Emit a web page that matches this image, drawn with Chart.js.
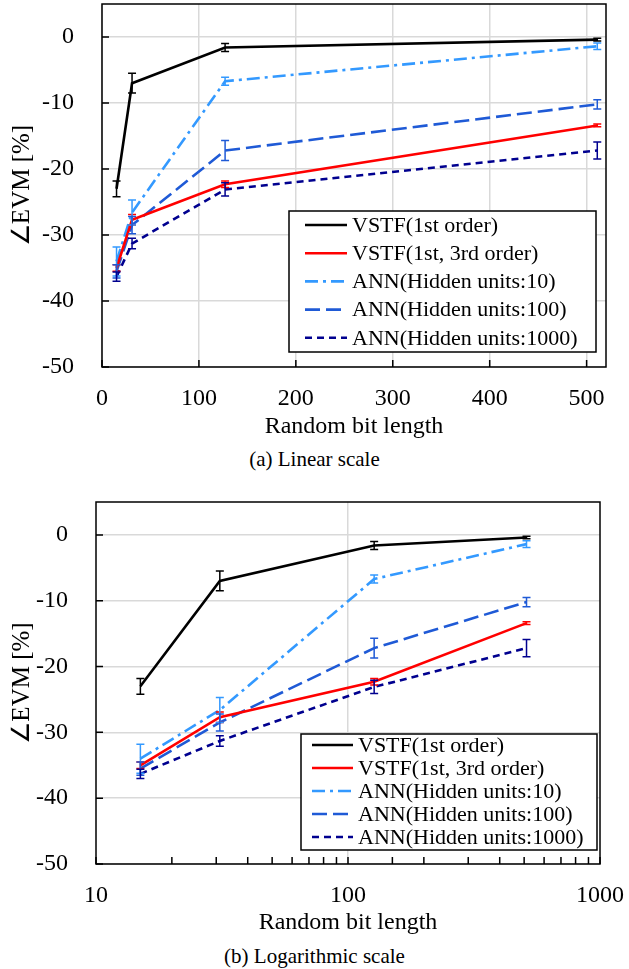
<!DOCTYPE html>
<html>
<head>
<meta charset="utf-8">
<title>EVM vs random bit length</title>
<script src="https://cdn.jsdelivr.net/npm/chart.js@4.4.1/dist/chart.umd.min.js"></script>
<style>
  body { margin: 0; background: #fff; }
  #wrap { position: relative; width: 629px; height: 969px; }
  canvas { position: absolute; left: 0; }
  .cap {
    position: absolute; left: 0; width: 629px; height: 24px; line-height: 24px;
    text-align: center; font-family: "Liberation Serif", serif; font-size: 21px; color: #000;
  }
</style>
</head>
<body>
<div id="wrap">
  <canvas id="linChart" width="629" height="445" style="top:0"></canvas>
  <div class="cap" style="top:447px">(a) Linear scale</div>
  <canvas id="logChart" width="629" height="450" style="top:490px"></canvas>
  <div class="cap" style="top:944px">(b) Logarithmic scale</div>
</div>
<script>
// random bit lengths (PRBS)
const bitLength = [15, 31, 127, 511];

// ΔEVM [%] and error bar half-widths for each model
const vstf1 = [-23.0, -7.0, -1.6, -0.4];
const vstf1Err = [1.2, 1.5, 0.6, 0.2];
const vstf13 = [-35.0, -27.7, -22.3, -13.4];
const vstf13Err = [0.5, 0.8, 0.5, 0.2];
const ann10 = [-34.0, -26.6, -6.7, -1.4];
const ann10Err = [2.2, 1.9, 0.6, 0.5];
const ann100 = [-35.5, -28.5, -17.2, -10.2];
const ann100Err = [1.0, 1.3, 1.5, 0.7];
const ann1000 = [-36.3, -31.3, -23.1, -17.2];
const ann1000Err = [0.7, 0.8, 1.0, 1.3];

const seriesLabels = [
  "VSTF(1st order)",
  "VSTF(1st, 3rd order)",
  "ANN(Hidden units:10)",
  "ANN(Hidden units:100)",
  "ANN(Hidden units:1000)",
];

// labelled ticks on the log axis
const logTickLabels = [10, 100, 1000];

const serif = "'Liberation Serif', serif";
const gridColor = "#d9d9d9";
Chart.defaults.color = "#000";
Chart.defaults.font.family = serif;

function serifFont(size) {
  return { family: serif, size: size };
}

function makeDatasets() {
  const series = [
    { values: vstf1, err: vstf1Err, color: "#000000", dash: [] },
    { values: vstf13, err: vstf13Err, color: "#ff0000", dash: [] },
    { values: ann10, err: ann10Err, color: "#3399ff", dash: [13, 5, 3, 5] },
    { values: ann100, err: ann100Err, color: "#1f5ad6", dash: [15, 6] },
    { values: ann1000, err: ann1000Err, color: "#00008f", dash: [7, 5] },
  ];
  return series.map((s, k) => ({
    label: seriesLabels[k],
    data: bitLength.map((x, i) => ({ x: x, y: s.values[i] })),
    errors: s.err,
    borderColor: s.color,
    borderDash: s.dash,
    borderWidth: 2.6,
    pointRadius: 0,
    tension: 0,
    fill: false,
  }));
}

// error bars, inward ticks, plot frame and boxed legend
const decorPlugin = {
  id: "decor",
  afterDatasetsDraw(chart) {
    const ctx = chart.ctx;
    const xs = chart.scales.x;
    const ys = chart.scales.y;
    chart.data.datasets.forEach((ds) => {
      ctx.save();
      ctx.strokeStyle = ds.borderColor;
      ctx.lineWidth = 1.5;
      ctx.beginPath();
      ds.data.forEach((p, i) => {
        const e = ds.errors[i];
        const px = xs.getPixelForValue(p.x);
        const top = ys.getPixelForValue(p.y + e);
        const bot = ys.getPixelForValue(p.y - e);
        ctx.moveTo(px, top);
        ctx.lineTo(px, bot);
        ctx.moveTo(px - 4, top);
        ctx.lineTo(px + 4, top);
        ctx.moveTo(px - 4, bot);
        ctx.lineTo(px + 4, bot);
      });
      ctx.stroke();
      ctx.restore();
    });
  },
  afterDraw(chart, args, opts) {
    const ctx = chart.ctx;
    const a = chart.chartArea;
    const xs = chart.scales.x;
    const ys = chart.scales.y;
    ctx.save();
    ctx.strokeStyle = "#000";
    ctx.lineWidth = 1.5;
    ctx.beginPath();
    xs.ticks.forEach((t) => {
      const px = xs.getPixelForValue(t.value);
      ctx.moveTo(px, a.bottom);
      ctx.lineTo(px, a.bottom - 7);
    });
    ys.ticks.forEach((t) => {
      const py = ys.getPixelForValue(t.value);
      ctx.moveTo(a.left, py);
      ctx.lineTo(a.left + 7, py);
    });
    ctx.stroke();
    ctx.strokeRect(a.left, a.top, a.right - a.left, a.bottom - a.top);

    // legend box
    ctx.fillStyle = "#fff";
    ctx.fillRect(opts.left, opts.top, opts.width, opts.height);
    ctx.strokeRect(opts.left, opts.top, opts.width, opts.height);
    ctx.font = "22px " + serif;
    ctx.textBaseline = "middle";
    ctx.textAlign = "left";
    chart.data.datasets.forEach((ds, i) => {
      const y = opts.firstRow + i * opts.rowHeight;
      ctx.save();
      ctx.strokeStyle = ds.borderColor;
      ctx.lineWidth = ds.borderWidth;
      ctx.setLineDash(ds.borderDash);
      ctx.beginPath();
      ctx.moveTo(opts.sampleLeft, y);
      ctx.lineTo(opts.sampleLeft + opts.sampleWidth, y);
      ctx.stroke();
      ctx.restore();
      ctx.fillStyle = "#000";
      ctx.fillText(ds.label, opts.textLeft, y + 1);
    });
    ctx.restore();
  },
};

function yAxis(width) {
  return {
    min: -50,
    max: 5,
    ticks: { stepSize: 10, includeBounds: false, padding: 28, font: serifFont(24) },
    grid: { color: gridColor, lineWidth: 1.5, drawTicks: false },
    border: { display: false },
    title: { display: true, text: "∠EVM [%]", font: serifFont(25), padding: { top: 7, bottom: 0 } },
    afterFit: (s) => {
      s.width = width;
      s.paddingTop = 0;
      s.paddingBottom = 0;
    },
  };
}

function xTitle(bottomPad) {
  return { display: true, text: "Random bit length", font: serifFont(24), padding: { top: 0, bottom: bottomPad } };
}

function drawCharts() {
  // (a) linear x axis
  new Chart(document.getElementById("linChart"), {
    type: "line",
    data: { datasets: makeDatasets() },
    options: {
      responsive: false,
      animation: false,
      layout: { padding: { top: 4, right: 23, left: 0, bottom: 0 } },
      plugins: {
        legend: { display: false },
        tooltip: { enabled: false },
        decor: {
          left: 289, top: 211, width: 307, height: 141,
          firstRow: 225, rowHeight: 28.2,
          sampleLeft: 305, sampleWidth: 42, textLeft: 352,
        },
      },
      scales: {
        x: {
          type: "linear",
          min: 0,
          max: 520,
          ticks: { stepSize: 100, includeBounds: false, padding: 17, maxRotation: 0, font: serifFont(24) },
          grid: { color: gridColor, lineWidth: 1.5, drawTicks: false },
          border: { display: false },
          title: xTitle(4),
          afterFit: (s) => {
            s.height = 78;
            s.paddingLeft = 0;
            s.paddingRight = 0;
          },
        },
        y: yAxis(102),
      },
    },
    plugins: [decorPlugin],
  });

  // (b) logarithmic x axis
  new Chart(document.getElementById("logChart"), {
    type: "line",
    data: { datasets: makeDatasets() },
    options: {
      responsive: false,
      animation: false,
      layout: { padding: { top: 12, right: 29, left: 0, bottom: 0 } },
      plugins: {
        legend: { display: false },
        tooltip: { enabled: false },
        decor: {
          left: 301, top: 244, width: 296, height: 116,
          firstRow: 255, rowHeight: 23,
          sampleLeft: 312, sampleWidth: 41, textLeft: 358,
        },
      },
      scales: {
        x: {
          type: "logarithmic",
          min: 10,
          max: 1000,
          ticks: {
            autoSkip: false,
            maxRotation: 0,
            padding: 17,
            font: serifFont(24),
            callback: (v) => (logTickLabels.some((t) => Math.abs(t - v) < 1e-6 * t) ? String(Math.round(v)) : ""),
          },
          grid: {
            color: (c) => (c.tick && Math.abs(c.tick.value - 100) < 1e-6 ? gridColor : "rgba(0,0,0,0)"),
            lineWidth: 1.5,
            drawTicks: false,
          },
          border: { display: false },
          title: xTitle(3),
          afterFit: (s) => {
            s.height = 76;
            s.paddingLeft = 0;
            s.paddingRight = 0;
          },
        },
        y: yAxis(96),
      },
    },
    plugins: [decorPlugin],
  });
}

// make sure the serif face is ready before the canvases are painted
document.fonts.load("24px 'Liberation Serif'").then(drawCharts, drawCharts);
</script>
</body>
</html>
